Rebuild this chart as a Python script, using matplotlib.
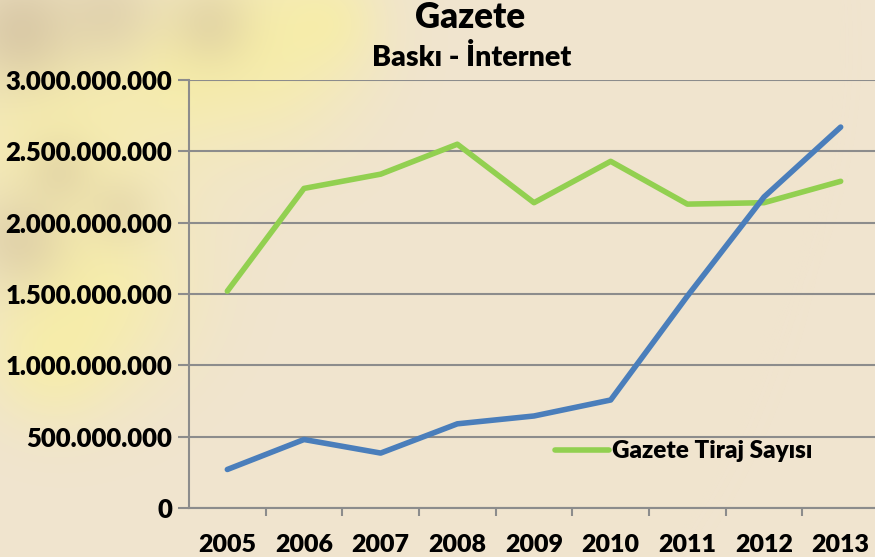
import matplotlib.pyplot as plt
import numpy as np
from matplotlib.ticker import FuncFormatter

years = ["2005", "2006", "2007", "2008", "2009", "2010", "2011", "2012", "2013"]
tiraj = [1.52e9, 2.24e9, 2.34e9, 2.55e9, 2.14e9, 2.43e9, 2.13e9, 2.14e9, 2.29e9]
internet = [0.27e9, 0.48e9, 0.385e9, 0.59e9, 0.645e9, 0.757e9, 1.485e9, 2.18e9, 2.67e9]

plt.rcParams["font.family"] = ["Lato", "DejaVu Sans"]
plt.rcParams["font.weight"] = "heavy"

W, H = 875, 557
fig = plt.figure(figsize=(W / 100, H / 100), dpi=100)

# background: beige with soft yellow / brownish blobs at upper left (photo look)
yy, xx = np.mgrid[0:H, 0:W]
base = np.array([240, 228, 207]) / 255.0
img = np.ones((H, W, 3)) * base
yellow = np.array([250, 242, 150]) / 255.0
brown = np.array([200, 180, 150]) / 255.0
blobs = [(60, 120, 90, 0.55, yellow), (260, 45, 70, 0.6, yellow), (90, 290, 70, 0.55, yellow),
         (50, 360, 45, 0.45, yellow), (330, 20, 35, 0.4, yellow), (180, 70, 40, 0.35, yellow),
         (20, 30, 40, 0.55, brown), (110, 15, 35, 0.35, brown), (210, 25, 30, 0.35, brown),
         (20, 240, 35, 0.4, brown), (60, 170, 25, 0.3, brown), (120, 210, 25, 0.25, brown)]
for cx, cy, r, a, col in blobs:
    w = a * np.exp(-((xx - cx) ** 2 + (yy - cy) ** 2) / (2 * r ** 2))
    img = img * (1 - w[..., None]) + col * w[..., None]
bg = fig.add_axes([0, 0, 1, 1])
bg.imshow(img, aspect="auto")
bg.axis("off")

x0, x1 = 189, 879
ytop, ybot = 80, 508
ax = fig.add_axes([x0 / W, 1 - ybot / H, (x1 - x0) / W, (ybot - ytop) / H])
ax.patch.set_alpha(0)
x = np.arange(len(years))
ax.plot(x, tiraj, color="#92d050", lw=4, solid_capstyle="round", label="Gazete Tiraj Sayısı")
ax.plot(x, internet, color="#4a7ebb", lw=4, solid_capstyle="round", label="_nolegend_")
ax.set_xlim(-0.5, len(years) - 0.5)
ax.set_ylim(0, 3e9)
ax.set_yticks(np.arange(0, 3.01e9, 0.5e9))
ax.yaxis.set_major_formatter(FuncFormatter(lambda v, p: f"{int(v):,}".replace(",", ".")))
ax.set_xticks(x)
ax.set_xticklabels(years)
ax.set_xticks(np.arange(0.5, len(years) - 0.5), minor=True)
ax.tick_params(axis="x", which="major", length=0, pad=19, labelsize=18)
ax.tick_params(axis="x", which="minor", length=6, color="#8c8c8c", width=1.5)
ax.tick_params(axis="y", length=8, color="#8c8c8c", width=1.5, labelsize=18.5, pad=4)
ax.grid(axis="y", color="#8c8c8c", lw=1.5)
for s in ["top", "right"]:
    ax.spines[s].set_visible(False)
for s in ["left", "bottom"]:
    ax.spines[s].set_color("#8c8c8c")
    ax.spines[s].set_linewidth(1.5)
ax.set_axisbelow(True)

ax.legend(loc="upper left", bbox_to_anchor=((543 - x0) / (x1 - x0), (ybot - 428) / (ybot - ytop)),
          frameon=False, fontsize=17.5, handlelength=2.2, handletextpad=0.15, borderpad=0)

fig.text(470 / W, 1 - 18 / H, "Gazete", ha="center", va="center", fontsize=25, fontweight="heavy")
fig.text(472 / W, 1 - 58 / H, "Baskı - İnternet", ha="center", va="center", fontsize=20.5, fontweight="heavy")

fig.savefig("out.png", dpi=100)
